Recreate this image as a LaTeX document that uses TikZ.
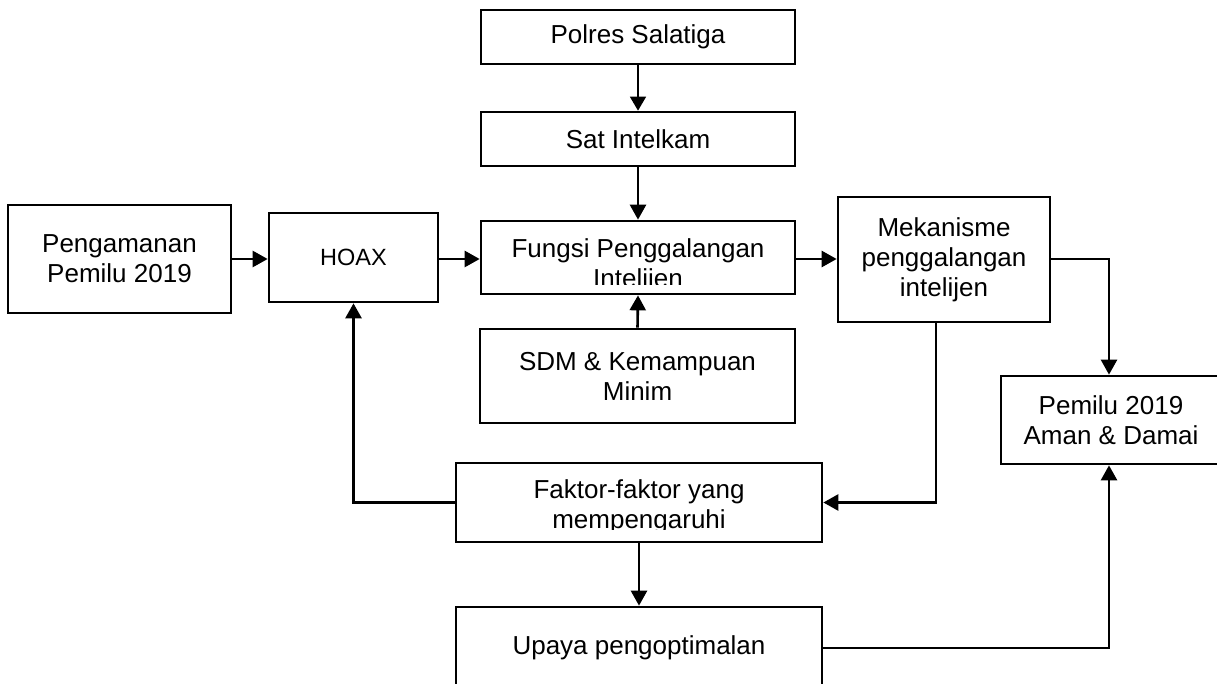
\documentclass[tikz,border=0pt]{standalone}
\usepackage{fontspec}
\setmainfont{Liberation Sans}
\usetikzlibrary{arrows.meta}
\begin{document}
\begin{tikzpicture}[x=1pt,y=-1pt,
  bx/.style={draw, line width=2.7pt, inner sep=0pt, align=center, font=\fontsize{26}{30}\selectfont},
  txt/.style={inner sep=0pt, align=center, font=\fontsize{26}{30}\selectfont},
  conn/.style={line width=2.6pt, -{Triangle[length=15pt,width=16pt]}},
  thinconn/.style={line width=1.6pt, -{Triangle[length=14pt,width=16pt]}},
  ln/.style={line width=2.6pt}]
\clip (0,0) rectangle (1217,684);
\fill[white] (0,0) rectangle (1217,684);
% boxes
\node[bx, minimum width=314pt, minimum height=54pt] (polres) at (638,37) {Polres Salatiga};
\node[bx, minimum width=314pt, minimum height=54pt] (sat) at (638,139) {Sat Intelkam};
\node[bx, minimum width=314pt, minimum height=73pt] (fungsi) at (638,257.5) {};
\begin{scope}
  \clip (fungsi.north west) rectangle (fungsi.east |- 0,284.5);
  \node[txt] (fungsitxt) at (638,265.5) {Fungsi Penggalangan\\Intelijen};
\end{scope}
\node[bx, minimum width=223pt, minimum height=108pt] (peng) at (119.5,259) {Pengamanan\\Pemilu 2019};
\node[bx, minimum width=169pt, minimum height=89pt, font=\fontsize{23.5}{28}\selectfont] (hoax) at (353.5,257.5) {HOAX};
\node[bx, minimum width=212pt, minimum height=125pt] (mek) at (944,259.5) {Mekanisme\\penggalangan\\intelijen};
\node[bx, minimum width=220pt, minimum height=88pt] (pemilu) at (1111,420) {Pemilu 2019\\Aman \& Damai};
\node[bx, minimum width=315pt, minimum height=94pt] (sdm) at (637.5,376) {SDM \& Kemampuan\\Minim};
\node[bx, minimum width=366pt, minimum height=79pt] (faktor) at (639,502.5) {};
\begin{scope}
  \clip (faktor.north west) rectangle (faktor.east |- 0,529);
  \node[txt] (faktortxt) at (639,507) {Faktor-faktor yang\\mempengaruhi};
\end{scope}
\node[bx, minimum width=366pt, minimum height=82pt] (upaya) at (639,648) {Upaya pengoptimalan};
% connectors
\coordinate (mekdown) at (936,322);
\coordinate (pemx) at (1109,419);
\draw[thinconn] (polres.south) -- (sat.north);
\draw[conn] (sat.south) -- (fungsi.north);
\draw[conn] (peng.east) -- (hoax.west |- peng.east);
\draw[conn] (hoax.east |- peng.east) -- (fungsi.west |- peng.east);
\draw[conn] (fungsi.east |- peng.east) -- (mek.west |- peng.east);
\draw[conn] (sdm.north) -- (fungsi.south);
\draw[conn] (mek.east |- peng.east) -| (pemx |- pemilu.north);
\draw[conn] (mekdown) |- (faktor.east);
\draw[conn] (faktor.west) -| (hoax.south);
\draw[conn] (faktor.south) -- (upaya.north);
\draw[conn] (upaya.east) -| (pemx |- pemilu.south);
\end{tikzpicture}
\end{document}
